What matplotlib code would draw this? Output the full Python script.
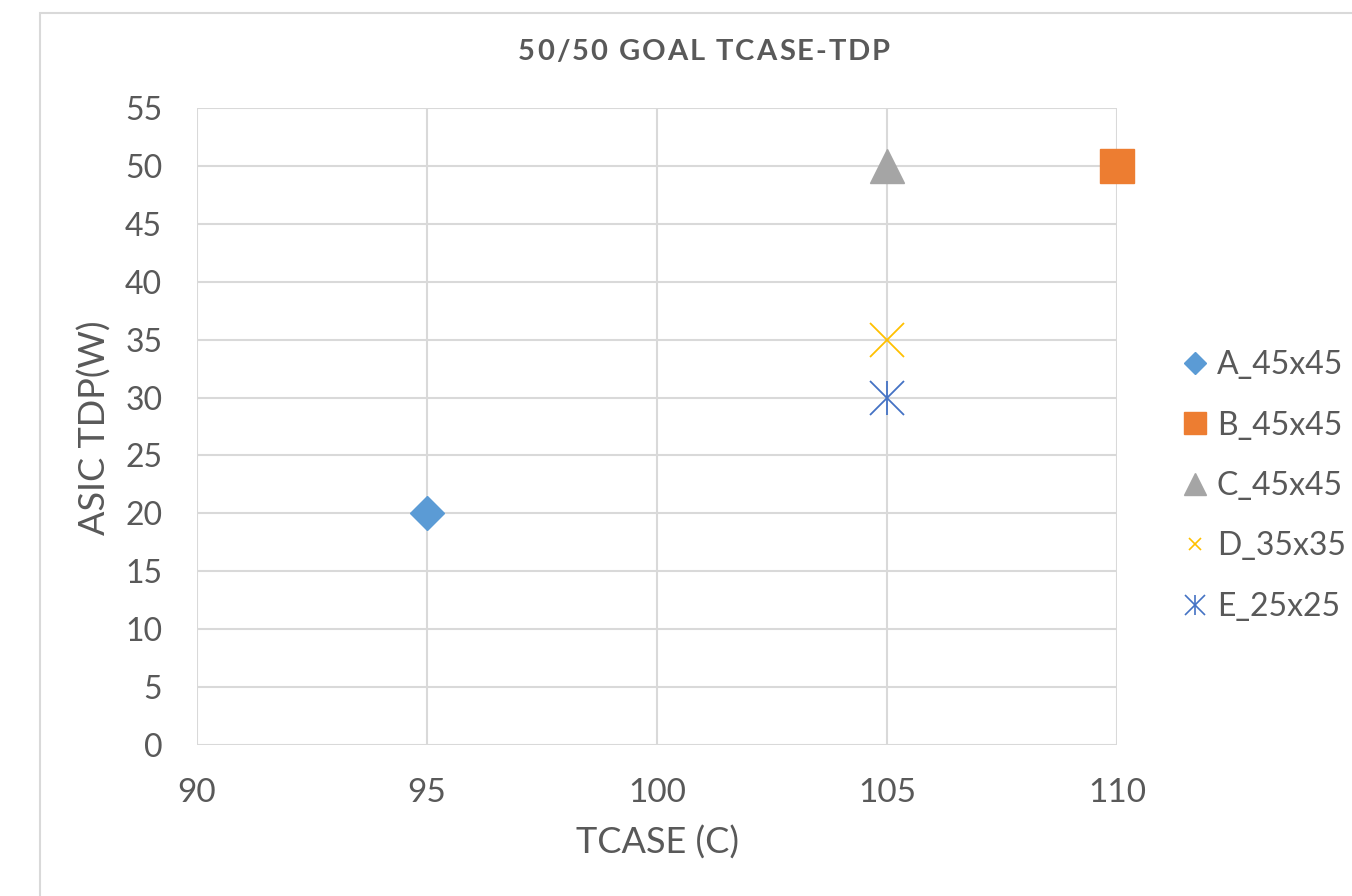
import matplotlib
matplotlib.use("Agg")
import matplotlib.pyplot as plt
from matplotlib.lines import Line2D
from matplotlib.patches import Rectangle
from matplotlib.legend_handler import HandlerTuple

plt.rcParams['font.family'] = ['Lato', 'DejaVu Sans']

# data
names = ["A_45x45", "B_45x45", "C_45x45", "D_35x35", "E_25x25"]
tcase = [95, 110, 105, 105, 105]
tdp = [20, 50, 50, 35, 30]
colors = ["#5B9BD5", "#ED7D31", "#A5A5A5", "#FFC000", "#4472C4"]
xticks = [90, 95, 100, 105, 110]
yticks = [0, 5, 10, 15, 20, 25, 30, 35, 40, 45, 50, 55]
title = "50/50 GOAL TCASE-TDP"

TXT = "#595959"
GRID = "#D9D9D9"
W, H = 1352, 896

fig = plt.figure(figsize=(W/100, H/100), dpi=100)
# chart frame (cropped at right/bottom like the screenshot)
fig.patches.append(Rectangle((40/W, -0.1), 1.2, 1 - 13/H + 0.1,
                             transform=fig.transFigure, fill=False,
                             edgecolor=GRID, linewidth=1.5))

ax = fig.add_axes([197/W, 1 - 745/H, (1117-197)/W, (745-108)/H])
ax.set_xlim(90, 110)
ax.set_ylim(0, 55)
ax.set_xticks(xticks)
ax.set_yticks(yticks)
ax.grid(True, color=GRID, linewidth=1.5)
ax.set_axisbelow(True)
for s in ax.spines.values():
    s.set_visible(False)
ax.tick_params(length=0, labelcolor=TXT)
ax.tick_params(axis='x', pad=24, labelsize=24)
ax.tick_params(axis='y', pad=25, labelsize=23)

# markers
ax.plot(tcase[0], tdp[0], 'D', ms=17, color=colors[0], linestyle='none')
ax.plot(tcase[1], tdp[1], 's', ms=25, color=colors[1], linestyle='none', clip_on=False)
ax.plot(tcase[2], tdp[2], '^', ms=25, color=colors[2], linestyle='none')
ax.plot(tcase[3], tdp[3], 'x', ms=24, mew=1.3, color=colors[3], linestyle='none')
ax.plot(tcase[4], tdp[4], 'x', ms=24, mew=1.3, color=colors[4], linestyle='none')
ax.plot(tcase[4], tdp[4], '|', ms=24, mew=1.3, color=colors[4], linestyle='none')

ax.set_xlabel("TCASE (C)", fontsize=26, color=TXT)
ax.set_ylabel("ASIC TDP(W)", fontsize=26, color=TXT)
ax.xaxis.set_label_coords(657/W, 1 - 843/H, transform=fig.transFigure)
ax.yaxis.set_label_coords(95/W, 1 - 428/H, transform=fig.transFigure)
ax.xaxis.label.set_va('center')
ax.yaxis.label.set_va('center')

# title with letter spacing, drawn char by char
rend = fig.canvas.get_renderer()
chars = [fig.text(0, 1 - 52/H, c, fontsize=21, fontweight='bold', color=TXT,
                  ha='left', va='center') for c in title]
widths = []
for t in chars:
    if t.get_text() == " ":
        widths.append(t.get_fontsize() * 0.25 * 100 / 72)
    else:
        widths.append(t.get_window_extent(rend).width)
target = 372
gap = (target - sum(widths)) / (len(chars) - 1)
x = 704 - target / 2
for t, w in zip(chars, widths):
    t.set_x(x / W)
    x += w + gap

handles = [
    Line2D([], [], marker='D', ms=11, color=colors[0], linestyle='none'),
    Line2D([], [], marker='s', ms=16.5, color=colors[1], linestyle='none'),
    Line2D([], [], marker='^', ms=16, color=colors[2], linestyle='none'),
    Line2D([], [], marker='x', ms=8.6, mew=1.2, color=colors[3], linestyle='none'),
    (Line2D([], [], marker='x', ms=14, mew=1.2, color=colors[4], linestyle='none'),
     Line2D([], [], marker='|', ms=14, mew=1.2, color=colors[4], linestyle='none')),
]
fig.legend(handles, names, loc='center left', bbox_to_anchor=(1154/W, 1 - 486/H),
           frameon=False, fontsize=23, labelcolor=TXT, handlelength=0.77,
           handletextpad=0.3, labelspacing=0.95,
           handler_map={tuple: HandlerTuple(ndivide=1)})

fig.savefig("out.png", dpi=100)
